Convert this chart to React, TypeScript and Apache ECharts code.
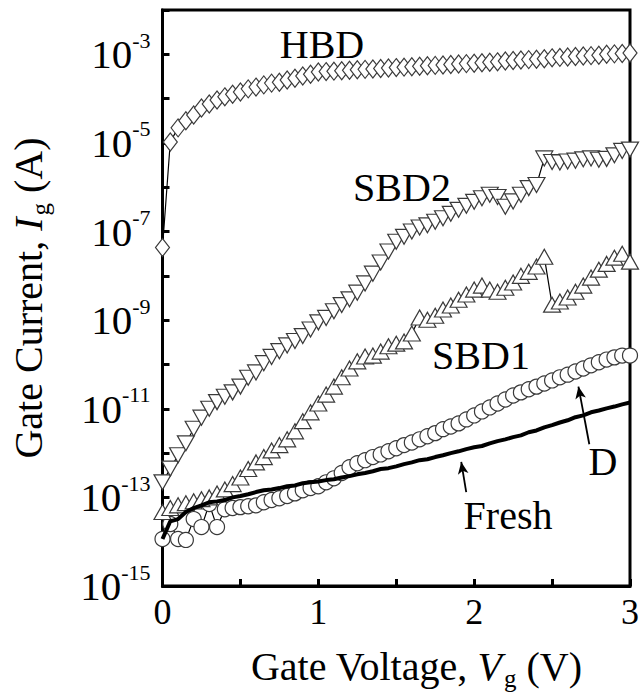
import React, { useEffect, useRef } from "react";
import * as echarts from "echarts";

// Gate voltage (V), sampled every 0.05 V
const voltage = [
  0, 0.05, 0.1, 0.15, 0.2, 0.25, 0.3, 0.35, 0.4, 0.45,
  0.5, 0.55, 0.6, 0.65, 0.7, 0.75, 0.8, 0.85, 0.9, 0.95,
  1, 1.05, 1.1, 1.15, 1.2, 1.25, 1.3, 1.35, 1.4, 1.45,
  1.5, 1.55, 1.6, 1.65, 1.7, 1.75, 1.8, 1.85, 1.9, 1.95,
  2, 2.05, 2.1, 2.15, 2.2, 2.25, 2.3, 2.35, 2.4, 2.45,
  2.5, 2.55, 2.6, 2.65, 2.7, 2.75, 2.8, 2.85, 2.9, 2.95, 3,
];

// log10 of gate current (A)
const hbdLogI = [
  -7.36, -4.98, -4.66, -4.5, -4.37, -4.21, -4.12, -4.03, -3.96, -3.9,
  -3.85, -3.78, -3.74, -3.69, -3.65, -3.63, -3.58, -3.54, -3.49, -3.45,
  -3.4, -3.39, -3.38, -3.37, -3.36, -3.35, -3.34, -3.33, -3.32, -3.31,
  -3.3, -3.29, -3.28, -3.27, -3.26, -3.25, -3.24, -3.23, -3.22, -3.21,
  -3.2, -3.19, -3.18, -3.17, -3.15, -3.14, -3.13, -3.12, -3.11, -3.1,
  -3.08, -3.07, -3.06, -3.05, -3.04, -3.03, -3.02, -3.0, -2.99, -2.98, -2.97,
];
const sbd2LogI = [
  -12.66, -12.35, -12.05, -11.78, -11.45, -11.2, -11.0, -10.85, -10.73, -10.63,
  -10.5, -10.3, -10.18, -9.97, -9.83, -9.7, -9.57, -9.47, -9.36, -9.21,
  -9.05, -8.95, -8.8, -8.66, -8.53, -8.38, -8.17, -7.95, -7.7, -7.45,
  -7.23, -7.12, -7.0, -6.91, -6.86, -6.78, -6.7, -6.6, -6.51, -6.42,
  -6.33, -6.25, -6.17, -6.22, -6.44, -6.32, -6.17, -6.02, -5.95, -5.35,
  -5.43, -5.44, -5.42, -5.4, -5.37, -5.35, -5.38, -5.36, -5.28, -5.18, -5.15,
];
const sbd1LogI = [
  -13.33, -13.24, -13.18, -13.13, -13.09, -13.04, -13.0, -12.91, -12.82, -12.7,
  -12.55, -12.36, -12.21, -12.09, -11.94, -11.82, -11.69, -11.51, -11.28, -11.08,
  -10.88, -10.68, -10.5, -10.29, -10.09, -9.93, -9.82, -9.8, -9.71, -9.59,
  -9.53, -9.48, -9.3, -8.94, -8.99, -8.9, -8.76, -8.67, -8.54, -8.42,
  -8.31, -8.22, -8.31, -8.36, -8.27, -8.15, -8.0, -7.91, -7.79, -7.57,
  -8.65, -8.58, -8.49, -8.36, -8.22, -8.04, -7.86, -7.73, -7.59, -7.5, -7.68,
];
const dLogI = [
  -13.94, -13.6, -13.94, -13.96, -13.49, -13.67, -13.15, -13.67, -13.27, -13.24,
  -13.22, -13.2, -13.18, -13.11, -13.06, -13.02, -12.97, -12.91, -12.84, -12.79,
  -12.75, -12.66, -12.57, -12.45, -12.32, -12.23, -12.16, -12.09, -12.03, -11.96,
  -11.89, -11.82, -11.76, -11.69, -11.62, -11.55, -11.46, -11.4, -11.33, -11.24,
  -11.15, -11.06, -10.97, -10.88, -10.79, -10.7, -10.63, -10.56, -10.5, -10.43,
  -10.36, -10.29, -10.23, -10.16, -10.09, -10.02, -9.95, -9.89, -9.84, -9.8, -9.8,
];
const freshLogI = [
  -13.94, -13.54, -13.49, -13.33, -13.24, -13.18, -13.11, -13.09, -13.06, -13.0,
  -12.97, -12.93, -12.88, -12.84, -12.82, -12.79, -12.75, -12.73, -12.68, -12.66,
  -12.64, -12.61, -12.59, -12.55, -12.52, -12.48, -12.45, -12.41, -12.36, -12.34,
  -12.3, -12.25, -12.21, -12.16, -12.14, -12.09, -12.05, -12.0, -11.96, -11.91,
  -11.87, -11.84, -11.78, -11.73, -11.69, -11.64, -11.6, -11.53, -11.49, -11.42,
  -11.37, -11.31, -11.26, -11.19, -11.15, -11.08, -11.04, -10.99, -10.95, -10.9, -10.86,
];

const xTickLabels = ["0", "1", "2", "3"];

const FONT = "Liberation Serif";

const pairs = (ys: number[]) => voltage.map((v, i) => [v, ys[i]]);

export default function App() {
  const ref = useRef<HTMLDivElement>(null);
  useEffect(() => {
    if (!ref.current) return;
    const chart = echarts.init(ref.current, undefined, { renderer: "svg" });
    const markerStyle = { color: "#fff", borderColor: "#3a3a3a", borderWidth: 1.2 };
    const thin = { color: "#000", width: 1.2 };
    const lbl = (text: string, x: number, y: number) => ({
      type: "text", x, y, z: 10,
      style: {
        text, fontSize: 40, fontFamily: FONT, fill: "#000",
        textAlign: "center", textVerticalAlign: "middle",
      },
    });
    const titleRich = {
      t: { fontSize: 40, fontFamily: FONT, color: "#000" },
      i: { fontSize: 40, fontFamily: FONT, color: "#000", fontStyle: "italic" },
      sub: { fontSize: 25, fontFamily: FONT, color: "#000", padding: [24, 0, 0, 2] },
    };
    const option: any = {
      animation: false,
      grid: {
        left: 161, right: 11, top: 10, bottom: 109,
        show: true, borderColor: "#000", borderWidth: 3, backgroundColor: "transparent",
      },
      xAxis: {
        type: "value", min: 0, max: 3, interval: 0.5,
        axisLine: { show: true, lineStyle: { color: "#000", width: 3 } },
        axisTick: { show: true, inside: true, length: 7, lineStyle: { color: "#000", width: 3 } },
        splitLine: { show: false },
        axisLabel: {
          fontSize: 36, fontFamily: FONT, color: "#000", margin: 8,
          formatter: (v: number) => {
            const k = Math.round(v);
            return Math.abs(v - k) < 1e-6 ? xTickLabels[k] : "";
          },
        },
        name: "{t|Gate Voltage, }{i|V}{sub|g}{t| (V)}",
        nameLocation: "middle",
        nameGap: 56,
        nameTextStyle: { padding: [0, 0, 0, 40], rich: titleRich },
      },
      yAxis: {
        type: "value", min: -15, max: -2, interval: 1,
        axisLine: { show: true, lineStyle: { color: "#000", width: 3 } },
        axisTick: { show: true, inside: true, length: 7, lineStyle: { color: "#000", width: 3 } },
        splitLine: { show: false },
        axisLabel: {
          margin: 12, color: "#000",
          formatter: (v: number) => {
            const n = Math.round(v);
            return n % 2 !== 0 ? `{b|10}{s|${n}}` : "";
          },
          rich: {
            b: { fontSize: 41, fontFamily: FONT, color: "#000" },
            s: { fontSize: 22, fontFamily: FONT, color: "#000", padding: [0, 0, 28, 0] },
          },
        },
        name: "{t|Gate Current, }{i|I}{sub|g}{t| (A)}",
        nameLocation: "middle",
        nameRotate: 90,
        nameGap: 110,
        nameTextStyle: { padding: [0, 0, 0, 0], rich: titleRich },
      },
      series: [
        {
          name: "D", type: "line", data: pairs(dLogI),
          symbol: "circle", symbolSize: 15, itemStyle: markerStyle, lineStyle: thin, z: 2,
        },
        {
          name: "SBD1", type: "line", data: pairs(sbd1LogI),
          symbol: "triangle", symbolSize: [17, 15], itemStyle: markerStyle, lineStyle: thin, z: 3,
        },
        {
          name: "SBD2", type: "line", data: pairs(sbd2LogI),
          symbol: "triangle", symbolRotate: 180, symbolSize: [17, 15], itemStyle: markerStyle, lineStyle: thin, z: 4,
        },
        {
          name: "HBD", type: "line", data: pairs(hbdLogI),
          symbol: "diamond", symbolSize: [14, 18], itemStyle: markerStyle, lineStyle: thin, z: 5,
        },
        {
          name: "Fresh", type: "line", data: pairs(freshLogI),
          symbol: "none", lineStyle: { color: "#000", width: 4 }, z: 6,
          markLine: {
            silent: true,
            symbol: ["none", "arrow"],
            symbolSize: [8, 12],
            label: { show: false },
            lineStyle: { color: "#000", width: 1.8, type: "solid" },
            data: [
              [{ coord: [1.949, -12.88] }, { coord: [1.917, -12.2] }],
              [{ coord: [2.739, -11.8] }, { coord: [2.669, -10.5] }],
            ],
          },
        },
      ],
      graphic: [
        lbl("HBD", 322, 44),
        lbl("SBD2", 402, 187),
        lbl("SBD1", 481, 355),
        lbl("D", 603, 461),
        lbl("Fresh", 508, 515),
      ],
    };
    chart.setOption(option);
    return () => chart.dispose();
  }, []);
  return (
    <div
      ref={ref}
      style={{ position: "fixed", left: 0, top: 0, width: 642, height: 696, background: "#fff" }}
    />
  );
}
